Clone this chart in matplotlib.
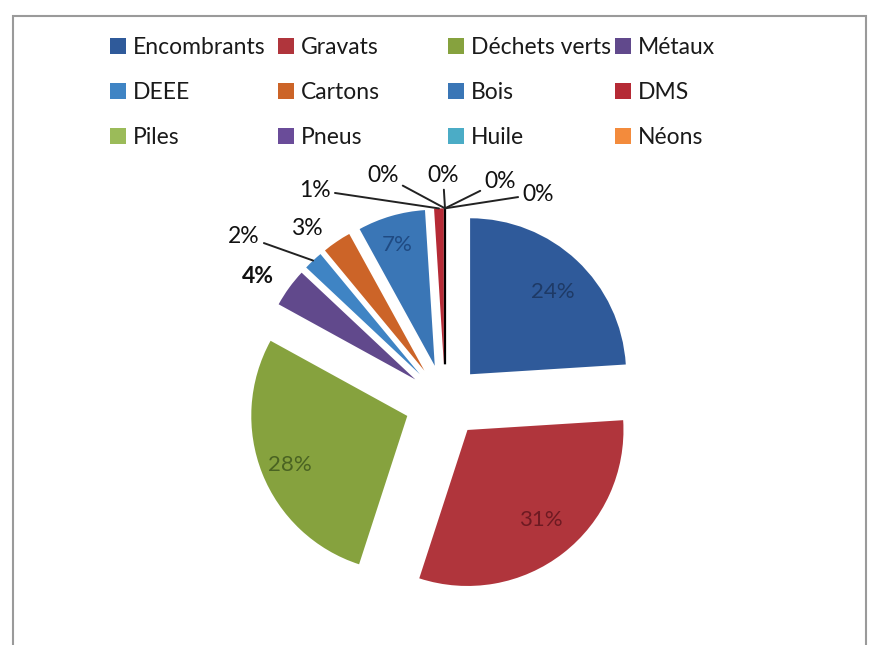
import numpy as np
import matplotlib
matplotlib.use("Agg")
import matplotlib.pyplot as plt
from matplotlib.patches import Patch, Rectangle

plt.rcParams['font.family'] = ['Lato', 'DejaVu Sans']

categories = ["Encombrants", "Gravats", "Déchets verts", "Métaux",
              "DEEE", "Cartons", "Bois", "DMS",
              "Piles", "Pneus", "Huile", "Néons"]
values = [24, 31, 28, 4, 2, 3, 7, 1, 0, 0, 0, 0]
pct_labels = ["24%", "31%", "28%", "4%", "2%", "3%", "7%", "1%", "0%", "0%", "0%", "0%"]

colors = ["#2F5A9A", "#B0353C", "#86A23E", "#61498C",
          "#3F84C4", "#CC6428", "#3A76B6", "#B52A35",
          "#9BBB59", "#6A4C99", "#4BACC6", "#F38B3C"]
inner_text_colors = {0: "#1E3A66", 1: "#6E1A22", 2: "#4A6322", 6: "#1F4A82"}

W, H = 872, 645
cx, cy, R = 445, 401, 156


def px2data(px, py):
    return ((px - cx) / R, (cy - py) / R)


fig = plt.figure(figsize=(W / 100, H / 100), dpi=100)
ax = fig.add_axes([(cx - 1.7 * R) / W, (H - cy - 1.6 * R) / H, 3.4 * R / W, 3.4 * R / H])

explode = [0.235, 0.235, 0.26] + [0.235] * 9
wedges, texts, autotexts = ax.pie(
    values, colors=colors, startangle=90, counterclock=False,
    explode=explode, autopct=lambda p: "", pctdistance=0.76,
    wedgeprops=dict(linewidth=0))
ax.set_xlim(-1.7, 1.7)
ax.set_ylim(-1.6, 1.8)
ax.axis("off")

# labels inside the big slices
inner_pos = {0: (553, 292), 1: (541, 520), 2: (290, 465), 6: (397, 245)}
for i, col in inner_text_colors.items():
    autotexts[i].set_text(pct_labels[i])
    autotexts[i].set_color(col)
    autotexts[i].set_fontsize(16)
    autotexts[i].set_position(px2data(*inner_pos[i]))

# the zero slice drawn as a black line
wedges[9].set_edgecolor("black")
wedges[9].set_linewidth(1.6)

# outside labels: (index, label centre in px, leader line, bold)
outside = [
    (3, (258, 276), False, True),
    (4, (244, 236), True, False),
    (5, (307, 228), False, False),
    (7, (315, 190), True, False),
    (8, (383, 175), True, False),
    (9, (443, 175), True, False),
    (10, (500, 181), True, False),
    (11, (538, 194), True, False),
]
for i, pos, leader, bold in outside:
    w = wedges[i]
    ang = np.deg2rad((w.theta1 + w.theta2) / 2)
    tip = (w.center[0] + w.r * np.cos(ang), w.center[1] + w.r * np.sin(ang))
    arrow = dict(arrowstyle="-", color="#222222", lw=1.4, shrinkA=1, shrinkB=0) if leader else None
    ax.annotate(pct_labels[i], xy=tip, xytext=px2data(*pos), ha="center", va="center",
                fontsize=16.5, color="#111111", fontweight="bold" if bold else "normal",
                arrowprops=arrow)

# legend: 4 columns of 3 entries
handles = [Patch(facecolor=c, edgecolor="none") for c in colors]
col_x = [110, 278, 448, 615]
for j in range(4):
    idx = [j, j + 4, j + 8]
    fig.legend([handles[k] for k in idx], [categories[k] for k in idx],
               loc="upper left", bbox_to_anchor=(col_x[j] / W, 1 - 37 / H),
               frameon=False, fontsize=16.5, handlelength=0.7, handleheight=0.65,
               handletextpad=0.3, labelspacing=1.05, borderpad=0, borderaxespad=0,
               labelcolor="#1a1a1a")

fig.patches.append(Rectangle((13 / W, -0.02), (866 - 13) / W, 1.02 - 16 / H,
                             transform=fig.transFigure, fill=False,
                             edgecolor="#9a9a9a", lw=1.5))

fig.savefig("out.png", dpi=100)
